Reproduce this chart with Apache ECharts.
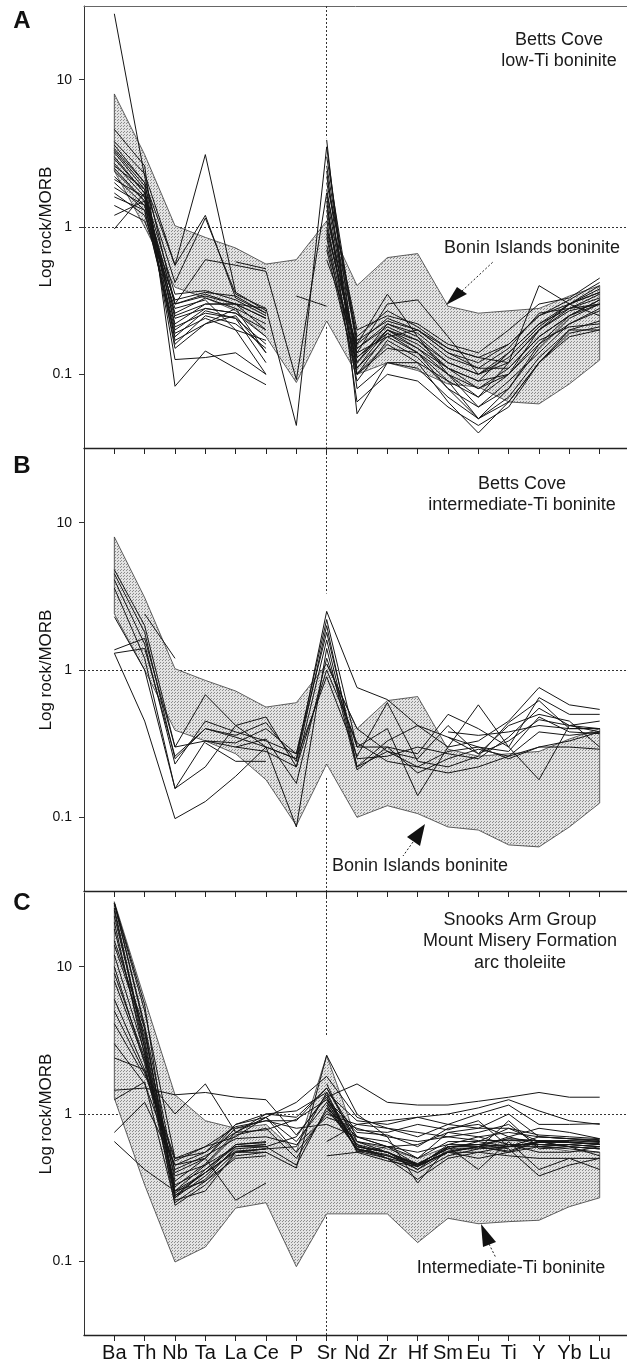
<!DOCTYPE html>
<html>
<head>
<meta charset="utf-8">
<script src="https://cdn.jsdelivr.net/npm/echarts/dist/echarts.min.js"></script>
<style>
html,body{margin:0;padding:0;background:#fff;}
#chart{width:627px;height:1366px;}
</style>
</head>
<body>
<div id="chart"></div>
<script>
// ---------- data ----------
const elements = ['Ba','Th','Nb','Ta','La','Ce','P','Sr','Nd','Zr','Hf','Sm','Eu','Ti','Y','Yb','Lu'];
const yTickValues = [0.1, 1, 10];
const yTickLabels = ['0.1', '1', '10'];
const yAxisTitle = 'Log rock/MORB';
const panelLetters = ['A', 'B', 'C'];
const panelTitles = [
  ['Betts Cove', 'low-Ti boninite'],
  ['Betts Cove', 'intermediate-Ti boninite'],
  ['Snooks Arm Group', 'Mount Misery Formation', 'arc tholeiite']
];
const bandLabels = ['Bonin Islands boninite', 'Bonin Islands boninite', 'Intermediate-Ti boninite'];

// field envelopes
const boninUpper = [8.0, 3.1, 1.02, 0.85, 0.72, 0.56, 0.6, 1.1, 0.4, 0.62, 0.66, 0.29, 0.26, 0.27, 0.28, 0.34, 0.4];
const boninLower = [2.4, 1.0, 0.39, 0.33, 0.27, 0.18, 0.088, 0.23, 0.10, 0.12, 0.106, 0.086, 0.082, 0.065, 0.063, 0.086, 0.125];
const intTiUpper = [27.6, 6.0, 1.35, 0.9, 0.8, 0.85, 0.55, 2.5, 0.65, 0.58, 0.5, 0.6, 0.6, 0.68, 0.6, 0.56, 0.55];
const intTiLower = [1.28, 0.33, 0.099, 0.125, 0.23, 0.25, 0.092, 0.21, 0.21, 0.21, 0.134, 0.196, 0.18, 0.186, 0.19, 0.235, 0.27];

// panel A: Betts Cove low-Ti boninite samples
const lowTiSamples = [
  [28, 2.2, 0.3, 0.35, 0.3, 0.24, null, 2.6, 0.15, 0.22, 0.18, 0.12, 0.1, 0.14, 0.22, 0.28, 0.33],
  [3.8, 2.3, 0.55, 3.1, 0.36, 0.27, null, 3.0, 0.16, 0.24, 0.2, 0.14, 0.12, 0.16, 0.25, 0.3, 0.36],
  [3.4, 2.0, 0.55, 1.2, 0.33, 0.26, null, 2.2, 0.18, 0.27, 0.21, 0.15, 0.13, 0.12, 0.2, 0.27, 0.3],
  [3.3, 1.9, 0.42, 1.15, 0.35, 0.28, null, 1.8, 0.13, 0.2, 0.17, 0.11, 0.09, 0.14, 0.22, 0.3, 0.38],
  [3.0, 1.7, 0.35, 0.37, 0.32, 0.25, null, 1.6, 0.12, 0.22, 0.19, 0.13, 0.11, 0.11, 0.18, 0.25, 0.32],
  [2.7, 1.6, 0.3, 0.34, 0.3, 0.24, null, 1.4, 0.11, 0.2, 0.15, 0.1, 0.08, 0.1, 0.16, 0.22, 0.28],
  [2.4, 1.5, 0.26, 0.33, 0.28, 0.22, null, 1.2, 0.14, 0.18, 0.14, 0.1, 0.06, 0.08, 0.15, 0.24, 0.3],
  [2.1, 1.6, 0.22, 0.3, 0.3, 0.2, null, 1.1, 0.1, 0.16, 0.12, 0.09, 0.07, 0.12, 0.2, 0.28, 0.35],
  [1.85, 1.4, 0.2, 0.28, 0.26, 0.18, null, 0.95, 0.15, 0.21, 0.17, 0.12, 0.1, 0.13, 0.21, 0.3, 0.4],
  [1.6, 1.3, 0.18, 0.27, 0.24, 0.16, null, 0.85, 0.09, 0.17, 0.13, 0.08, 0.05, 0.07, 0.13, 0.2, 0.23],
  [1.2, 1.5, 0.16, 0.25, 0.22, 0.15, null, 0.75, 0.12, 0.2, 0.16, 0.11, 0.09, 0.1, 0.17, 0.21, 0.22],
  [0.97, 1.7, 0.15, 0.22, 0.28, 0.14, null, 0.7, 0.1, 0.15, 0.14, 0.09, 0.05, 0.065, 0.12, 0.19, 0.21],
  [4.6, 2.6, 0.083, 0.144, 0.11, 0.085, null, 3.9, 0.054, 0.12, 0.12, 0.065, 0.04, 0.065, 0.12, 0.2, 0.2],
  [3.2, 1.8, 0.126, 0.13, 0.14, 0.1, null, 1.5, 0.065, 0.1, 0.09, 0.06, 0.045, 0.06, 0.12, 0.18, 0.2],
  [2.9, 1.7, 0.25, 0.3, 0.3, 0.28, 0.045, 3.5, 0.1, 0.19, 0.15, 0.11, 0.08, 0.11, 0.18, 0.25, 0.3],
  [2.5, 1.5, 0.3, 0.6, 0.55, 0.5, 0.092, 1.7, 0.17, 0.23, 0.2, 0.15, 0.13, 0.16, 0.25, 0.32, 0.42],
  [2.2, 1.4, 0.24, 0.28, 0.26, 0.2, null, 2.0, 0.2, 0.25, 0.22, 0.16, 0.14, 0.2, 0.3, 0.33, 0.45],
  [2.0, 1.3, 0.19, 0.24, 0.2, 0.17, null, 1.3, 0.13, 0.19, 0.14, 0.08, 0.06, 0.09, 0.14, 0.22, 0.27],
  [3.6, 2.0, 0.17, 0.22, 0.25, 0.14, null, 2.4, 0.08, 0.12, 0.11, 0.07, 0.05, 0.08, 0.16, 0.25, 0.32],
  [2.6, 1.8, 0.21, 0.26, 0.24, 0.12, null, 1.0, 0.14, 0.3, 0.32, 0.18, 0.1, 0.12, 0.4, 0.3, 0.25],
  [1.7, 1.2, 0.28, 0.32, 0.2, 0.1, null, 0.6, 0.16, 0.35, 0.18, 0.1, 0.07, 0.1, 0.2, 0.3, 0.36],
  [1.4, 1.1, 0.32, 0.36, 0.34, 0.26, null, 0.9, 0.11, 0.18, 0.2, 0.14, 0.11, 0.15, 0.26, 0.28, 0.3],
  [null, null, null, null, 0.58, 0.52, null, null, null, null, null, null, null, null, null, null, null],
  [null, null, null, null, null, null, 0.34, 0.29, null, null, null, null, null, null, null, null, null]
];

// panel B: Betts Cove intermediate-Ti boninite samples
const intTiSamples = [
  [4.8, 2.0, 0.3, 0.68, 0.42, 0.3, 0.25, 2.5, 0.76, 0.63, 0.42, 0.3, 0.33, 0.45, 0.76, 0.58, 0.54],
  [4.1, 1.5, 0.23, 0.45, 0.38, 0.33, 0.27, 2.2, 0.3, 0.3, 0.27, 0.5, 0.4, 0.3, 0.65, 0.5, 0.5],
  [3.6, 1.2, 0.157, 0.33, 0.32, 0.4, 0.27, 1.8, 0.25, 0.26, 0.3, 0.27, 0.25, 0.35, 0.55, 0.42, 0.4],
  [2.3, 1.0, 0.157, 0.22, 0.42, 0.48, 0.22, 1.6, 0.22, 0.28, 0.25, 0.42, 0.27, 0.42, 0.5, 0.45, 0.3],
  [1.3, 0.45, 0.098, 0.128, 0.19, 0.3, 0.086, 1.4, 0.21, 0.3, 0.2, 0.25, 0.29, 0.26, 0.38, 0.36, 0.38],
  [1.37, 1.64, 0.3, 0.33, 0.3, 0.34, 0.17, 1.2, 0.3, 0.4, 0.14, 0.3, 0.58, 0.3, 0.18, 0.42, 0.45],
  [1.3, 1.4, 0.26, 0.4, 0.35, 0.3, 0.25, 0.9, 0.26, 0.6, 0.24, 0.22, 0.26, 0.44, 0.62, 0.4, 0.4],
  [null, 2.4, 1.2, null, null, null, null, null, null, null, null, null, null, null, null, null, null],
  [4.5, 1.8, 0.25, 0.4, 0.36, 0.44, 0.24, 2.0, 0.22, 0.33, 0.42, 0.35, 0.3, 0.28, 0.48, 0.38, 0.37],
  [null, null, null, null, null, null, null, 1.1, 0.4, 0.28, 0.22, 0.2, 0.22, 0.26, 0.3, 0.33, 0.38],
  [null, null, null, null, null, null, null, null, null, null, null, 0.38, 0.36, 0.38, 0.42, 0.4, 0.4],
  [null, null, null, null, null, null, null, null, null, null, null, 0.35, 0.27, 0.33, 0.46, 0.42, 0.38],
  [null, null, null, null, 0.3, 0.28, 0.22, 1.0, 0.32, 0.24, 0.22, 0.28, 0.3, 0.25, 0.3, 0.3, 0.29],
  [null, null, null, 0.32, 0.24, 0.24, null, null, null, null, null, null, null, null, null, null, null]
];

// panel C: Snooks Arm Group, Mount Misery Formation arc tholeiite samples
const snooksSamples = [
  [27, 5, 0.5, 0.55, 0.85, 0.95, 1.2, 1.8, 0.95, 0.8, 0.7, 0.85, 0.8, 1.0, 0.7, 0.68, 0.65],
  [27, 4, 0.4, 0.5, 0.8, 0.9, 0.9, 1.5, 0.65, 0.6, 0.45, 0.6, 0.6, 0.7, 0.62, 0.62, 0.6],
  [25, 3, 0.3, 0.45, 0.6, 0.62, null, 1.3, 0.6, 0.55, 0.45, 0.55, 0.6, 0.55, 0.65, 0.6, 0.58],
  [20, 2.5, 0.28, 0.4, 0.62, 0.65, null, 1.2, 0.62, 0.55, 0.44, 0.62, 0.62, 0.6, 0.6, 0.62, 0.6],
  [10, 2.2, 0.27, 0.38, 0.58, 0.6, 0.45, 1.1, 0.58, 0.53, 0.42, 0.55, 0.55, 0.6, 0.7, 0.68, 0.66],
  [1.25, 1.65, 0.25, 0.35, 0.55, 0.55, 0.43, 2.5, 1.0, 0.7, 0.34, 0.6, 0.42, 0.65, 0.42, 0.5, 0.42],
  [1.45, 1.5, 1.35, 1.4, 1.3, 1.25, 0.72, 1.3, 1.6, 1.2, 1.15, 1.15, 1.22, 1.3, 1.4, 1.3, 1.3],
  [4.1, 1.8, 1.0, 1.6, 0.75, 1.0, 1.05, 1.4, 0.9, 0.85, 0.95, 1.0, 1.1, 1.25, 1.05, 0.9, 0.85],
  [3.0, 1.6, 0.45, 0.55, 0.75, 0.95, 0.65, 1.2, 0.75, 0.72, 0.6, 0.8, 0.85, 0.7, 0.8, 0.75, 0.68],
  [2.4, 2.0, 0.5, 0.6, 0.7, 0.95, 0.55, 1.0, 0.85, 0.8, 0.75, 0.7, 0.75, 0.85, 0.6, 0.58, 0.55],
  [0.75, 1.2, 0.45, 0.5, 0.85, 1.0, 0.95, 1.5, 0.7, 0.65, 0.5, 0.75, 0.7, 0.62, 0.55, 0.55, 0.6],
  [0.65, 0.42, 0.3, 0.4, 0.55, 0.58, 0.6, 1.4, 0.55, 0.48, 0.44, 0.55, 0.5, 0.55, 0.6, 0.62, 0.6],
  [14, 3.5, 0.35, 0.5, 0.26, 0.34, null, 1.1, 0.7, 0.6, 0.5, 0.65, 0.65, 0.8, 0.65, 0.65, 0.62],
  [18, 2.8, 0.24, 0.33, 0.52, 0.55, null, 1.25, 0.62, 0.5, 0.36, 0.5, 0.55, 0.52, 0.5, 0.5, 0.5],
  [8, 2.3, 0.38, 0.45, 0.72, 0.8, 0.5, 1.05, 0.65, 0.55, 0.46, 0.58, 0.58, 0.9, 0.58, 0.6, 0.52],
  [6, 2.0, 0.42, 0.52, 0.68, 0.7, 0.62, 0.95, 0.8, 0.7, 0.65, 0.7, 0.66, 0.66, 0.66, 0.64, 0.62],
  [5, 1.9, 0.48, 0.6, 0.82, 0.9, 0.8, 0.85, 0.7, 0.6, 0.55, 0.62, 0.7, 0.75, 0.7, 0.68, 0.67],
  [12, 2.6, 0.33, 0.42, 0.6, 0.62, null, 1.15, 0.58, 0.5, 0.4, 0.52, 0.58, 0.6, 0.64, 0.66, 0.64],
  [22, 3.2, 0.3, 0.35, 0.5, 0.52, null, 1.6, 0.6, 0.55, 0.42, 0.6, 0.62, 0.58, 0.38, 0.45, 0.5],
  [null, null, null, null, null, null, null, 0.52, 0.55, 0.6, 0.62, 0.75, 0.8, 0.8, 0.72, 0.7, 0.68],
  [null, null, null, null, null, null, null, 0.65, 0.85, 0.9, 0.95, 0.85, 1.0, 1.15, 0.85, 0.85, 0.86],
  [15, 3.8, 0.28, 0.36, 0.6, 0.6, 0.7, 1.35, 0.6, 0.55, 0.45, 0.6, 0.62, 0.68, 0.66, 0.66, 0.65],
  [27, 5.5, 0.26, 0.3, 0.55, 0.58, null, 1.2, 0.58, 0.52, 0.44, 0.56, 0.6, 0.56, 0.66, 0.64, 0.63],
  [9, 2.4, 0.32, 0.46, 0.75, 0.78, 0.92, 1.25, 0.78, 0.75, 0.85, 0.78, 0.9, 0.6, 0.65, 0.6, 0.58],
  [27, 3.8, 0.27, 0.42, 0.62, 0.64, null, 1.3, 0.56, 0.5, 0.45, 0.55, 0.6, 0.62, 0.62, 0.6, 0.58],
  [24, 2.8, 0.29, 0.4, 0.56, 0.58, null, 1.15, 0.57, 0.52, 0.46, 0.58, 0.65, 0.6, 0.64, 0.64, 0.62]
];

const panelSamples = [lowTiSamples, intTiSamples, snooksSamples];
const panelBands = [[boninUpper, boninLower], [boninUpper, boninLower], [intTiUpper, intTiLower]];
// Sr guide line is interrupted between these values in every panel
const srGuideGap = [[4.0, 0.21], [3.3, 0.185], [3.35, 0.2]];

// ---------- chart ----------
const FONT = '"Liberation Sans", Arial, Helvetica, sans-serif';
const yMin = Math.pow(10, -1.5), yMax = Math.pow(10, 1.5);
const xMin = -1, xMax = 16.9;
const gridTops = [6, 449, 893];
const gridH = 442;

function stipple() {
  const c = document.createElement('canvas');
  c.width = 3; c.height = 3;
  const ctx = c.getContext('2d');
  ctx.fillStyle = '#e3e3e3'; ctx.fillRect(0, 0, 3, 3);
  ctx.fillStyle = '#8c8c8c';
  ctx.fillRect(0, 0, 1, 1);
  ctx.fillRect(1, 2, 1, 1);
  return { image: c, repeat: 'repeat' };
}
const bandFill = stipple();

const grid = [], xAxis = [], yAxis = [], series = [];
const idx = elements.map((_, i) => i);

for (let p = 0; p < 3; p++) {
  grid.push({ left: 84, top: gridTops[p], right: 0, height: gridH });
  xAxis.push({
    type: 'value', gridIndex: p, min: xMin, max: xMax,
    splitLine: { show: false },
    axisLine: { show: true, onZero: false, lineStyle: { color: '#222', width: 1.3 } },
    axisTick: { show: true, customValues: idx, length: 6, lineStyle: { color: '#222', width: 1 } },
    axisLabel: { show: p === 2, customValues: idx, formatter: v => elements[Math.round(v)] || '',
      fontSize: 20, color: '#111', fontFamily: FONT, margin: 8 }
  });
  yAxis.push({
    type: 'log', logBase: 10, gridIndex: p, min: yMin, max: yMax,
    name: yAxisTitle, nameLocation: 'middle', nameGap: 29, nameMoveOverlap: false,
    nameTextStyle: { fontSize: 17, color: '#111', fontFamily: FONT },
    splitLine: { show: false },
    axisLine: { show: true, onZero: false, lineStyle: { color: '#333', width: 1 } },
    axisTick: { show: true, customValues: yTickValues, length: 5, lineStyle: { color: '#333' } },
    axisLabel: { customValues: yTickValues, fontSize: 14, color: '#111', fontFamily: FONT, margin: 12,
      formatter: v => {
        for (let k = 0; k < yTickValues.length; k++) {
          if (Math.abs(Math.log10(v) - Math.log10(yTickValues[k])) < 1e-6) return yTickLabels[k];
        }
        return '';
      } }
  });

  // reference dotted lines
  const gap = srGuideGap[p];
  series.push({
    type: 'line', xAxisIndex: p, yAxisIndex: p, data: [], silent: true, z: 1,
    markLine: {
      silent: true, symbol: 'none', z: 1, animation: false, label: { show: false },
      lineStyle: { color: '#333', width: 1, type: [2, 2] },
      data: [
        { yAxis: 1 },
        [{ coord: [7, yMax] }, { coord: [7, gap[0]] }],
        [{ coord: [7, gap[1]] }, { coord: [7, yMin] }]
      ]
    }
  });

  // shaded comparison field
  const up = panelBands[p][0], lo = panelBands[p][1];
  series.push({
    type: 'custom', xAxisIndex: p, yAxisIndex: p, z: 2, silent: true, animation: false,
    data: [[0, 1]],
    renderItem: (params, api) => {
      const pts = [];
      for (let i = 0; i < up.length; i++) pts.push(api.coord([i, up[i]]));
      for (let i = lo.length - 1; i >= 0; i--) pts.push(api.coord([i, lo[i]]));
      return { type: 'polygon', shape: { points: pts },
        style: { fill: bandFill, stroke: '#3a3a3a', lineWidth: 0.8 } };
    }
  });

  // sample lines
  panelSamples[p].forEach(row => {
    series.push({
      type: 'line', xAxisIndex: p, yAxisIndex: p, z: 3, silent: true, animation: false,
      symbol: 'none', connectNulls: false,
      lineStyle: { color: '#151515', width: 1 },
      data: row.map((v, i) => [i, v == null ? '-' : v])
    });
  });
}

// top frame line of panel A
xAxis.push({
  type: 'value', gridIndex: 0, position: 'top', min: xMin, max: xMax,
  splitLine: { show: false }, axisTick: { show: false }, axisLabel: { show: false },
  axisLine: { show: true, onZero: false, lineStyle: { color: '#666', width: 1 } }
});

// ---------- text & annotations ----------
const graphic = [];
const letterY = [21, 466, 903];
panelLetters.forEach((t, p) => graphic.push({ type: 'text', x: 22, y: letterY[p], z: 10,
  style: { text: t, font: 'bold 24px ' + FONT, fill: '#111', align: 'center', verticalAlign: 'middle' } }));

const titleX = [559, 522, 520];
const titleY0 = [40, 484, 920];
panelTitles.forEach((lines, p) => lines.forEach((t, k) => graphic.push({ type: 'text',
  x: titleX[p], y: titleY0[p] + k * 21.5, z: 10,
  style: { text: t, font: '18px ' + FONT, fill: '#1a1a1a', align: 'center', verticalAlign: 'middle' } })));

const bandLabelPos = [[532, 248], [420, 866], [511, 1268]];
bandLabels.forEach((t, p) => graphic.push({ type: 'text', x: bandLabelPos[p][0], y: bandLabelPos[p][1], z: 10,
  style: { text: t, font: '18px ' + FONT, fill: '#1a1a1a', align: 'center', verticalAlign: 'middle' } }));

const arrowHeads = [
  [[446, 305], [457, 287], [467, 294]],
  [[425, 824], [407, 837], [420, 846]],
  [[481, 1224], [483, 1247], [496, 1242]]
];
const arrowTails = [
  [[462, 291], [494, 261]],
  [[413, 842], [403, 856]],
  [[489, 1244], [496, 1258]]
];
arrowHeads.forEach((pts, p) => {
  graphic.push({ type: 'polygon', z: 10, shape: { points: pts }, style: { fill: '#111' } });
  const t = arrowTails[p];
  graphic.push({ type: 'line', z: 10, shape: { x1: t[0][0], y1: t[0][1], x2: t[1][0], y2: t[1][1] },
    style: { stroke: '#222', lineWidth: 1, lineDash: [2, 2] } });
});

const chart = echarts.init(document.getElementById('chart'), null, { renderer: 'canvas' });
chart.setOption({
  animation: false,
  backgroundColor: '#fff',
  grid, xAxis, yAxis, series, graphic
});
</script>
</body>
</html>
